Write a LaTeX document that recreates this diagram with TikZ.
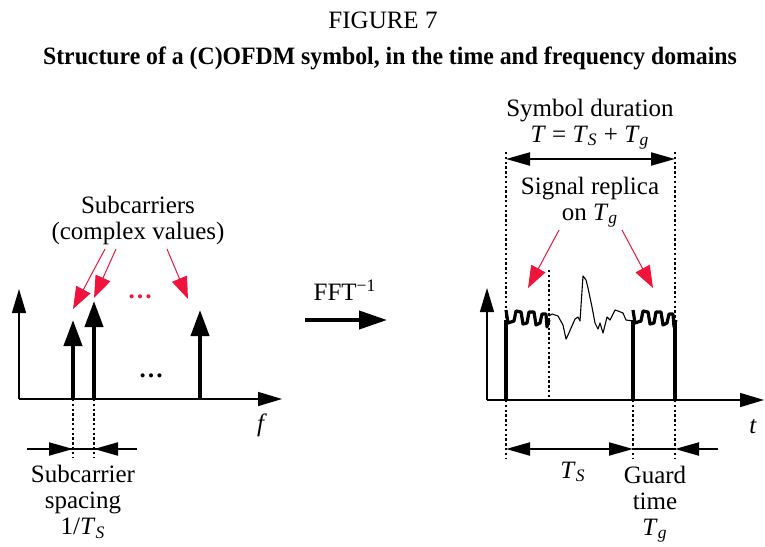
\documentclass[tikz,border=0pt]{standalone}
\usepackage{fontspec}
\setmainfont{Liberation Serif}
\usetikzlibrary{arrows.meta}

\definecolor{pointred}{RGB}{240,20,60}
\newcommand{\Tsub}[1]{\textit{T}\textsubscript{\textit{#1}}}

\begin{document}
\begin{tikzpicture}[x=0.5pt, y=-0.5pt,
    font=\fontsize{12.5}{13}\selectfont,
    axis/.style={line width=0.7pt, -{Triangle[length=12pt, width=7pt]}},
    carrier/.style={line width=2pt, -{Triangle[length=13pt, width=9pt]}},
    pointer/.style={pointred, line width=0.5pt, -{Triangle[length=11pt, width=8pt]}},
    guide/.style={line width=0.9pt, dash pattern=on 1.2pt off 1.2pt},
    dim/.style={line width=1pt},
    dimtip/.style={-{Triangle[length=12pt, width=6.5pt]}},
    stem/.style={line width=2pt},
    replica/.style={line width=1.6pt, line join=round},
    signal/.style={line width=0.55pt, line join=round},
    label/.style={align=center, inner sep=0pt}]
    \useasboundingbox (0,0) rectangle (765,546);

    % headings
    \node[label] (fig) at (383,20) {FIGURE 7};
    \node[label, font=\fontsize{12.5}{13}\selectfont\bfseries] (title) at (390,58)
        {\scalebox{0.95}[1]{Structure of a (C)OFDM symbol, in the time and frequency domains}};

    % frequency domain
    \coordinate (forigin) at (19,399);
    \coordinate (fytip) at (19,289);
    \coordinate (fxtip) at (282,399);
    \draw[axis] (forigin) -- (fytip);
    \draw[axis] (forigin) -- (fxtip);
    \node[label] (faxis) at (262,425) {\textit{f}};
    \foreach \name/\x/\top in {ca/73/320, cb/94/301, cc/200/310} {
        \coordinate (base-\name) at (\x,399);
        \coordinate (tip-\name) at (\x,\top);
        \draw[carrier] (base-\name) -- (tip-\name);
    }
    \node[label] (bdots) at (151,376) {\textbf{\dots}};
    \node[label, pointred] (rdots) at (140,297) {\textbf{\dots}};
    \node[label] (subc) at (138,220) {Subcarriers\\(complex values)};
    \coordinate (pa) at (105,249);
    \coordinate (pb) at (116,249);
    \coordinate (pc) at (167,249);
    \coordinate (pa-end) at (73,309);
    \coordinate (pb-end) at (94,298);
    \coordinate (pc-end) at (188,299);
    \draw[pointer] (pa) -- (pa-end);
    \draw[pointer] (pb) -- (pb-end);
    \draw[pointer] (pc) -- (pc-end);

    % subcarrier spacing
    \coordinate (low-ca) at (73,458);
    \coordinate (low-cb) at (94,458);
    \draw[guide] (base-ca) -- (low-ca);
    \draw[guide] (base-cb) -- (low-cb);
    \coordinate (spl) at (27,449);
    \coordinate (spr) at (137,449);
    \coordinate (spa) at (73,449);
    \coordinate (spb) at (94,449);
    \draw[dim] (spl) -- (spr);
    \draw[dim, dimtip] (spl) -- (spa);
    \draw[dim, dimtip] (spr) -- (spb);
    \node[label] (spacing) at (83,502) {Subcarrier\\spacing\\1/\Tsub{S}};

    % inverse transform
    \node[label] (fft) at (345,290) {FFT\textsuperscript{−1}};
    \coordinate (fftl) at (305,320);
    \coordinate (fftr) at (387,320);
    \draw[line width=2pt, -{Triangle[length=14pt, width=9pt]}] (fftl) -- (fftr);

    % time domain
    \coordinate (torigin) at (487,400);
    \coordinate (tytip) at (487,288);
    \coordinate (txtip) at (764,400);
    \draw[axis] (torigin) -- (tytip);
    \draw[axis] (torigin) -- (txtip);
    \node[label] (taxis) at (753,427) {\textit{t}};
    \foreach \name/\x in {sa/506, sb/633, sc/675} {
        \coordinate (base-\name) at (\x,400);
        \coordinate (top-\name) at (\x,320);
        \coordinate (low-\name) at (\x,458);
        \draw[stem] (base-\name) -- (top-\name);
        \draw[guide] (base-\name) -- (low-\name);
    }
    \coordinate (high-sa) at (506,152);
    \coordinate (high-sc) at (675,152);
    \draw[guide] (high-sa) -- (top-sa);
    \draw[guide] (high-sc) -- (top-sc);
    \coordinate (cut-top) at (549,270);
    \coordinate (cut-base) at (549,400);
    \draw[guide] (cut-top) -- (cut-base);

    % waveform
    \newcommand{\crenel}{(506,310) -- (508,323) -- (514,321) -- (516,311) -- (521,312)
        -- (523,324) -- (527,323) -- (529,312) -- (534,312) -- (536,325) -- (540,323)
        -- (542,314) -- (546,314) -- (547,327) -- (549,320)}
    \draw[replica] \crenel;
    \draw[replica, shift={(127,0)}] \crenel;
    \draw[signal] (549,316) -- (552,314) -- (558,316) -- (563,325) -- (566,339)
        -- (568,335) -- (575,319) -- (578,317) -- (580,321) -- (583,276) -- (586,280)
        -- (588,288) -- (592,307) -- (595,323) -- (598,329) -- (600,323) -- (603,333)
        -- (607,317) -- (610,320) -- (615,310) -- (618,311) -- (623,313) -- (626,320)
        -- (633,321);

    % symbol duration
    \coordinate (sdl) at (506,159);
    \coordinate (sdr) at (675,159);
    \draw[dim, {Triangle[length=12pt, width=6.5pt]}-{Triangle[length=12pt, width=6.5pt]}] (sdl) -- (sdr);
    \node[label] (symdur) at (590,124) {Symbol duration\\\textit{T} = \Tsub{S} + \Tsub{g}};
    \node[label] (replab) at (590,202) {Signal replica\\on \Tsub{g}};
    \coordinate (ra) at (559,230);
    \coordinate (rb) at (622,230);
    \coordinate (ra-end) at (528,288);
    \coordinate (rb-end) at (653,288);
    \draw[pointer] (ra) -- (ra-end);
    \draw[pointer] (rb) -- (rb-end);

    % useful part and guard time
    \coordinate (tsl) at (506,449);
    \coordinate (tsr) at (633,449);
    \coordinate (tgr) at (675,449);
    \coordinate (tgend) at (718,449);
    \draw[dim, {Triangle[length=12pt, width=6.5pt]}-{Triangle[length=12pt, width=6.5pt]}] (tsl) -- (tsr);
    \draw[dim] (tsr) -- (tgr);
    \draw[dim, dimtip] (tgend) -- (tgr);
    \node[label] (tslab) at (573,472) {\Tsub{S}};
    \node[label] (guard) at (655,504) {Guard\\time\\\Tsub{g}};
\end{tikzpicture}
\end{document}
